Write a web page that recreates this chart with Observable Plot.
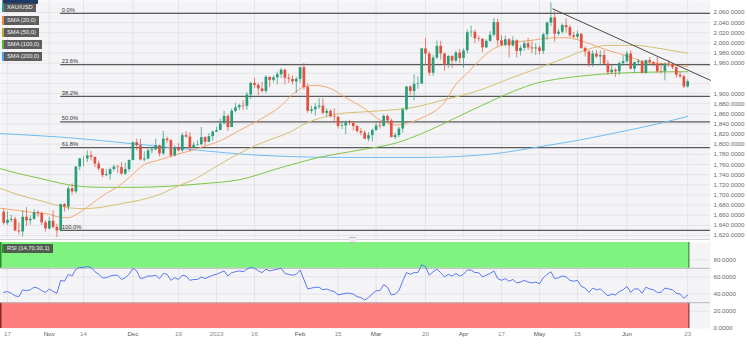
<!DOCTYPE html>
<html><head><meta charset="utf-8">
<script src="https://cdn.jsdelivr.net/npm/d3@7"></script>
<script src="https://cdn.jsdelivr.net/npm/@observablehq/plot@0.6"></script>
<style>
body{margin:0;background:#fff;font-family:"Liberation Sans",Arial,sans-serif}
#wrap{position:relative;width:747px;height:352px;overflow:hidden;background:#fff}
#main,#rsi{position:absolute;left:0}
#main{top:0}
#rsi{top:240px}
.lg{position:absolute;left:2px;height:9px;line-height:9px;font-size:5.8px;color:#f4f4f4;background:rgba(72,72,72,0.88);padding:0 3px 0 3px;border-left:2px solid;white-space:nowrap;box-sizing:border-box}
#sep{position:absolute;left:0;top:239px;width:710px;height:1px;background:#d4d4d8}
#grip{position:absolute;left:349px;top:237px;width:7px;height:4px;border-top:1px solid #bbb;border-bottom:1px solid #bbb;background:#eee}
</style></head><body>
<div id="wrap">
<div id="main"></div><div id="rsi"></div><div id="sep"></div><div id="grip"></div>
<div class="lg" style="top:3px;border-color:#26a69a">XAU/USD</div>
<div class="lg" style="top:15.5px;border-color:#f08a3c">SMA (20,0)</div>
<div class="lg" style="top:27.5px;border-color:#c2a832">SMA (50,0)</div>
<div class="lg" style="top:39.5px;border-color:#5cb82e">SMA (100,0)</div>
<div class="lg" style="top:52px;border-color:#42a5f5">SMA (200,0)</div>
<div class="lg" style="top:244px;border-color:#2f8f2f">RSI (14,70,30,1)</div>
</div>
<script>
// ---- data (index = trading day, 0 = Oct 14 2022) ----
const opens = [1666,1644,1650,1652,1629,1627,1656,1649,1652,1665,
1663,1645,1633,1648,1636,1629,1681,1676,1712,1706,
1755,1771,1771,1777,1774,1761,1751,1738,1740,1750,
1755,1754,1741,1750,1768,1803,1797,1769,1771,1787,
1789,1797,1781,1810,1807,1777,1793,1787,1817,1814,
1792,1798,1799,1813,1804,1815,1824,1827,1840,1855,
1833,1865,1872,1876,1875,1897,1920,1916,1909,1904,
1932,1926,1931,1937,1946,1930,1928,1923,1928,1951,
1912,1865,1868,1873,1875,1861,1865,1854,1853,1835,
1836,1842,1841,1835,1825,1822,1810,1817,1827,1836,
1835,1855,1846,1813,1817,1830,1868,1913,1904,1918,
1919,1988,1978,1940,1970,1993,1978,1956,1973,1964,
1980,1969,1984,2020,2021,2008,2007,1990,2003,2015,
2040,2004,1995,2006,1994,2004,1983,1989,1998,1990,
1988,1990,1983,2016,2039,2049,2017,2021,2034,2030,
2014,2011,2017,1989,1982,1958,1978,1972,1975,1958,
1941,1946,1943,1959,1963,1978,1948,1961,1963,1940,
1965,1961,1958,1943,1943,1958,1957,1951,1936,1933,
1913];
const highs = [1671,1667,1660,1656,1645,1669,1675,1659,1671,1669,
1666,1649,1656,1669,1642,1682,1683,1717,1722,1756,
1772,1775,1787,1786,1775,1766,1752,1750,1753,1759,
1758,1764,1763,1769,1804,1810,1810,1785,1791,1794,
1810,1798,1825,1814,1809,1797,1801,1822,1825,1823,
1804,1807,1833,1815,1821,1826,1834,1850,1865,1858,
1870,1881,1879,1886,1902,1922,1930,1920,1922,1935,
1932,1935,1942,1949,1948,1938,1935,1932,1952,1959,
1919,1875,1880,1890,1890,1870,1868,1870,1855,1845,
1846,1847,1844,1837,1831,1827,1823,1830,1842,1845,
1858,1858,1850,1822,1834,1871,1914,1915,1937,1933,
1989,2009,1982,1975,2004,2003,1980,1975,1975,1984,
1987,1988,2025,2033,2025,2013,2008,2006,2022,2048,
2047,2014,2013,2008,2012,2006,1994,2003,2009,2003,
1998,1994,2019,2041,2079,2062,2026,2037,2048,2034,
2021,2023,2018,1992,1985,1984,1985,1984,1985,1965,
1956,1949,1962,1975,1983,1984,1962,1967,1966,1966,
1971,1963,1971,1960,1960,1965,1958,1953,1942,1936,
1927];
const lows = [1641,1640,1645,1628,1621,1617,1638,1640,1650,1656,
1640,1627,1631,1633,1616,1627,1666,1669,1700,1702,
1748,1755,1764,1767,1754,1747,1734,1736,1729,1746,
1743,1739,1739,1745,1767,1787,1767,1765,1769,1781,
1787,1775,1778,1802,1773,1775,1785,1784,1812,1785,
1791,1796,1797,1796,1803,1806,1823,1827,1840,1825,
1833,1862,1866,1867,1867,1888,1910,1896,1901,1900,
1912,1921,1917,1930,1917,1920,1917,1900,1920,1907,
1861,1860,1856,1869,1858,1853,1852,1843,1830,1829,
1819,1837,1826,1822,1817,1809,1805,1804,1826,1830,
1834,1842,1813,1809,1813,1822,1865,1896,1886,1908,
1918,1955,1934,1934,1967,1966,1944,1949,1949,1960,
1959,1950,1978,2011,1999,2002,1981,1989,2001,2011,
1992,1993,1992,1970,1992,1970,1974,1983,1985,1978,
1975,1976,1977,2004,2032,2001,2013,2017,2019,2010,
2008,2006,1987,1972,1952,1952,1969,1956,1957,1936,
1938,1932,1936,1954,1959,1947,1940,1955,1939,1938,
1956,1953,1940,1939,1925,1952,1947,1930,1930,1910,
1911];
const closes = [1644,1650,1652,1629,1627,1656,1649,1652,1665,1663,
1645,1633,1648,1636,1629,1681,1676,1712,1706,1755,
1771,1771,1777,1774,1761,1751,1738,1740,1750,1755,
1754,1741,1750,1768,1803,1797,1769,1771,1787,1789,
1797,1781,1810,1807,1777,1793,1787,1817,1814,1792,
1798,1799,1813,1804,1815,1824,1827,1840,1855,1833,
1865,1872,1876,1875,1897,1920,1916,1909,1904,1932,
1926,1931,1937,1946,1930,1928,1923,1928,1951,1912,
1865,1868,1873,1875,1861,1865,1854,1853,1835,1836,
1842,1841,1835,1825,1822,1810,1817,1827,1836,1835,
1855,1846,1813,1817,1830,1868,1913,1904,1918,1919,
1988,1978,1940,1970,1993,1978,1956,1973,1964,1980,
1969,1984,2020,2021,2008,2007,1990,2003,2015,2040,
2004,1995,2006,1994,2004,1983,1989,1998,1990,1988,
1990,1983,2016,2039,2049,2017,2021,2034,2030,2014,
2011,2017,1989,1982,1958,1978,1972,1975,1958,1941,
1946,1943,1959,1963,1978,1948,1961,1963,1940,1965,
1961,1958,1943,1942,1958,1957,1951,1936,1933,1913,
1923.19];

// moving averages: [day index, value]
const sma20 = [[-1,1674],[4,1669],[8,1665],[12,1662],[14,1657],[17,1655],[19,1661],[22,1676],[25,1693],[27,1703],[30,1716],[33,1734],[35,1748],[37,1760],[40,1767],[43,1774],[46,1781],[50,1789],[52,1794],[57,1807],[62,1827],[67,1847],[73,1876],[76,1898],[79,1913],[82,1916],[86,1910],[90,1892],[95,1870],[99,1848],[103,1838],[106,1841],[110,1852],[116,1883],[119,1918],[122,1940],[125,1964],[128,1984],[133,1999],[139,2005],[145,2010],[148,2010],[151,2006],[154,1999],[159,1985],[162,1979],[166,1969],[169,1961],[174,1959],[178,1955],[180,1953]];
const sma50 = [[-1,1713],[4,1700],[10,1688],[15,1678],[18,1674],[21,1673],[25,1675],[31,1683],[36,1690],[41,1701],[46,1718],[50,1730],[55,1752],[62,1782],[68,1803],[75,1823],[80,1843],[84,1853],[88,1860],[95,1864],[101,1867],[108,1873],[115,1886],[125,1906],[134,1932],[141,1951],[148,1971],[154,1988],[159,1995],[166,1995],[171,1991],[178,1982],[180,1980]];
const sma100 = [[-1,1752],[4,1742],[10,1732],[15,1723],[20,1717],[26,1715],[34,1715],[43,1717],[52,1722],[62,1730],[73,1754],[83,1774],[94,1789],[103,1802],[110,1821],[120,1856],[128,1884],[134,1904],[140,1920],[147,1930],[154,1936],[161,1940],[169,1942],[178,1943],[180,1943]];
const sma200 = [[-1,1821],[17,1813],[34,1801],[50,1789],[68,1778],[89,1774],[110,1774],[120,1776],[131,1783],[141,1795],[152,1809],[162,1824],[172,1840],[180,1855]];

const rsiValues = [42,43,41,38,37,45,44,45,48,47,
44,42,46,43,41,56,55,63,61,69,
71,71,72,71,66,63,59,59,61,62,
62,57,59,63,70,67,58,59,61,61,
62,58,64,63,56,59,57,62,61,56,
57,57,60,58,60,62,63,65,67,61,
65,66,67,66,69,71,70,67,65,69,
67,68,69,70,64,63,62,63,68,57,
46,47,48,48,45,46,44,43,39,40,
41,41,40,37,36,33,36,40,44,44,
51,48,39,40,44,55,65,63,65,65,
74,72,62,66,69,65,60,63,61,64,
61,63,68,68,65,65,60,62,64,67,
58,56,58,55,57,53,54,56,54,53,
54,52,59,63,66,58,59,61,60,56,
55,56,49,47,42,47,45,46,42,38,
40,39,43,45,49,42,46,46,41,48,
46,45,42,42,47,46,45,41,40,35,
39];

const xTickIdx = [1,12,21,34,46,56,66,78,88,98,111,121,131,141,151,164,180];
const xTickLabels = ["17","Nov","14","Dec","19","2023","16","Feb","15","Mar","20","Apr","17","May","15","Jun","23"];
const yTicks = [1620,1640,1660,1680,1700,1720,1740,1760,1780,1800,1820,1840,1860,1880,1900,1920,1940,1960,1980,2000,2020,2040,2060];
const rsiTicks = [0,20,40,60,80];
const rsiLevels = [30,70];
const fibLabels = ["0.0%","23.6%","38.2%","50.0%","61.8%","100.0%"];
const fibLevels = [2058,1957,1894.5,1844,1793.5,1630];
const fibStartIdx = 15;
const trend = [[144.5,2067],[186,1926]];
const lastPrice = 1923.19;

// ---- build ----
const X0 = -0.84, X1 = 186;
const UP = "#2a9d78", DN = "#e2503f";
const fmtP = d3.format(",.4f");
const font = "Liberation Sans, Arial, sans-serif";
const candles = opens.map((o,i)=>({i,o,h:highs[i],l:lows[i],c:closes[i]}));
const col = d => d.c >= d.o ? UP : DN;
const fibRows = fibLevels.map((v,i)=>({v,label:fibLabels[i],x1:fibStartIdx,x2:X1}));
const yRows = yTicks.filter(v=>Math.abs(v-lastPrice)>18).map(v=>({v}));

const main = Plot.plot({
  width:747,height:240,marginLeft:0,marginRight:37,marginTop:0,marginBottom:2,
  style:{background:"transparent",fontFamily:font,overflow:"visible"},
  x:{domain:[X0,X1],axis:null},
  y:{domain:[1614.1,2083.5],axis:null},
  marks:[
    Plot.frame({fill:"#f4f4f7",stroke:null}),
    Plot.ruleY(yTicks,{stroke:"#e4e4e9"}),
    Plot.ruleX(xTickIdx,{stroke:"#e4e4e9"}),
    Plot.ruleY(fibRows,{y:"v",x1:"x1",x2:"x2",stroke:"#5a5a5a",strokeWidth:1.3}),
    Plot.text(fibRows,{x:"x1",y:"v",text:"label",dy:-3.5,dx:1,textAnchor:"start",fontSize:5.8,fill:"#333"}),
    Plot.line(sma200,{x:d=>d[0],y:d=>d[1],stroke:"#70bdf4",strokeWidth:1,curve:"monotone-x"}),
    Plot.line(sma100,{x:d=>d[0],y:d=>d[1],stroke:"#80c447",strokeWidth:1,curve:"monotone-x"}),
    Plot.line(sma50,{x:d=>d[0],y:d=>d[1],stroke:"#d6c070",strokeWidth:1,curve:"monotone-x"}),
    Plot.line(sma20,{x:d=>d[0],y:d=>d[1],stroke:"#f5a872",strokeWidth:1,curve:"monotone-x"}),
    Plot.ruleX(candles,{x:"i",y1:"l",y2:"h",stroke:col,strokeWidth:0.9,strokeOpacity:0.8}),
    Plot.ruleX(candles,{x:"i",y1:"o",y2:"c",stroke:col,strokeWidth:2.7}),
    Plot.line(trend,{x:d=>d[0],y:d=>d[1],stroke:"#4a4a4a",strokeWidth:1}),
    Plot.text(yRows,{x:()=>X1,y:"v",text:d=>fmtP(d.v),dx:3,textAnchor:"start",fontSize:6.2,fill:"#6a6a6a"}),
    Plot.text([lastPrice],{x:()=>X1,y:d=>d,text:d=>fmtP(d),dx:4,textAnchor:"start",fontSize:6.2,fill:"#ffffff"})
  ]
});
document.getElementById("main").appendChild(main);
// price tag background
const tag = [...main.querySelectorAll("text")].find(t=>t.textContent===fmtP(lastPrice));
if (tag) {
  const b = tag.getBBox();
  const r = document.createElementNS("http://www.w3.org/2000/svg","rect");
  r.setAttribute("x", b.x-2); r.setAttribute("y", b.y-0.5);
  r.setAttribute("width", b.width+4); r.setAttribute("height", b.height+1);
  r.setAttribute("fill","#1d3b66"); r.setAttribute("rx","1");
  tag.parentNode.insertBefore(r, tag);
}

const lastIdx = closes.length - 1;
const rsiRows = rsiValues.map((v,i)=>({i,v}));
const bands = [{lo:70,hi:100,fill:"#80f280",edge:"#2f8a2f"},{lo:0,hi:30,fill:"#fd7c7c",edge:"#8c2626"}];
const rsi = Plot.plot({
  width:747,height:112,marginLeft:0,marginRight:37,marginTop:2,marginBottom:24,
  style:{background:"transparent",fontFamily:font,overflow:"visible"},
  x:{domain:[X0,X1],axis:null},
  y:{domain:[0,100],axis:null},
  marks:[
    Plot.frame({fill:"#f4f4f7",stroke:null}),
    Plot.ruleX(xTickIdx,{stroke:"#e4e4e9"}),
    Plot.ruleY(rsiTicks.slice(1),{stroke:"#e4e4e9"}),
    Plot.rect(bands,{x1:()=>X0,x2:()=>lastIdx+0.3,y1:"lo",y2:"hi",fill:"fill"}),
    Plot.ruleX(bands,{x:()=>lastIdx+0.3,y1:"lo",y2:"hi",stroke:"edge",strokeWidth:1.2}),
    Plot.ruleX(bands,{x:()=>X0,y1:"lo",y2:"hi",stroke:"edge",strokeWidth:2}),
    Plot.ruleY(rsiLevels,{stroke:"#b9b9be"}),
    Plot.line(rsiRows,{x:"i",y:"v",stroke:"#5a78f0",strokeWidth:1}),
    Plot.text(rsiTicks,{x:()=>X1,y:d=>d,text:d=>d3.format(".4f")(d),dx:3,textAnchor:"start",fontSize:6.2,fill:"#6a6a6a"}),
    Plot.text(xTickIdx,{x:d=>d,text:(d,i)=>xTickLabels[i],frameAnchor:"bottom",dy:7,fontSize:6.2,
      fill:(d,i)=>/^[A-Z]/.test(xTickLabels[i])?"#555":"#888"})
  ]
});
document.getElementById("rsi").appendChild(rsi);
</script>
</body></html>
